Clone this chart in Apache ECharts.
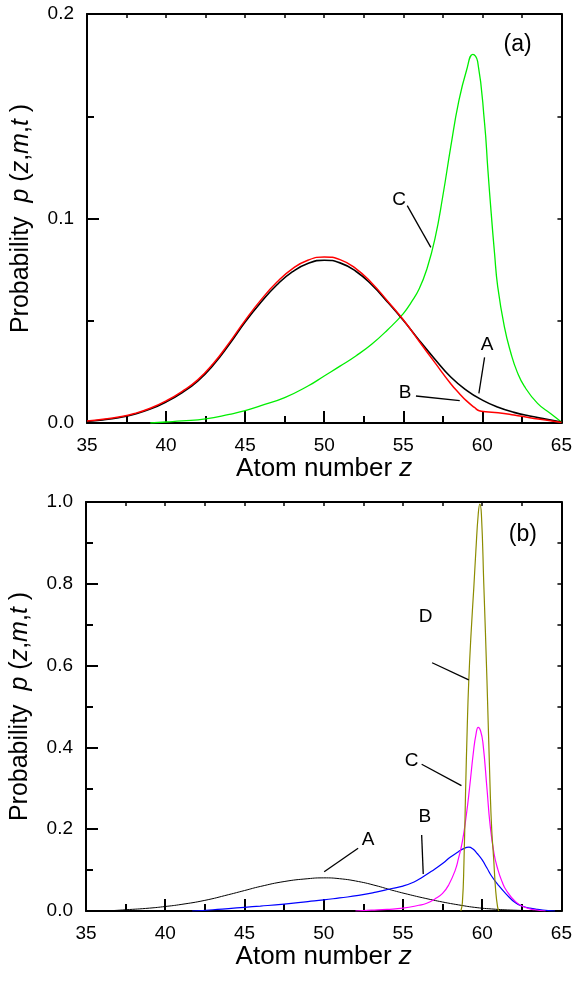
<!DOCTYPE html>
<html>
<head>
<meta charset="utf-8">
<script src="https://cdn.jsdelivr.net/npm/echarts@6/dist/echarts.min.js"></script>
<style>
html,body{margin:0;padding:0;background:#fff;}
#chart{width:575px;height:984px;}
</style>
</head>
<body>
<div id="chart"></div>
<script>
// ---------- Panel (a) data ----------
const aZ_A = [35, 36, 37, 38, 39, 40, 41, 42, 43, 44, 45, 46, 47, 48, 49, 50, 51, 52, 53, 54, 55, 56, 57, 58, 59, 60, 61, 62, 63, 64, 65];
const aP_A = [0.0008, 0.0015, 0.0026, 0.0043, 0.0068, 0.0103, 0.0148, 0.0205, 0.0285, 0.0385, 0.0494, 0.0590, 0.0675, 0.0740, 0.0781, 0.0796, 0.0783, 0.0742, 0.0676, 0.0592, 0.0502, 0.0405, 0.0312, 0.0225, 0.0160, 0.0112, 0.0077, 0.0052, 0.0034, 0.0019, 0.0005];

const aZ_B = [35, 36, 37, 38, 39, 40, 41, 42, 43, 44, 45, 46, 47, 48, 49, 50, 51, 52, 53, 54, 55, 56, 57, 58, 58.5, 59, 59.5, 59.8, 60.2, 61, 62, 63, 64, 65];
const aP_B = [0.001, 0.0018, 0.0029, 0.0046, 0.0072, 0.0108, 0.0154, 0.0211, 0.0292, 0.0393, 0.0502, 0.0602, 0.0688, 0.0755, 0.0797, 0.0812, 0.0799, 0.0755, 0.0685, 0.0597, 0.0505, 0.0400, 0.0295, 0.0192, 0.0148, 0.0108, 0.0076, 0.0060, 0.0055, 0.0050, 0.0039, 0.0026, 0.0015, 0.0003];

const aZ_C = [39, 40, 41, 42.5, 44, 45, 46, 47.5, 49, 50, 51, 52, 53, 54, 55, 55.5, 56, 56.5, 57, 57.5, 58, 58.5, 59, 59.4, 59.7, 60.14, 60.35, 60.56, 60.77, 60.97, 61.39, 61.81, 62.2, 62.65, 63.49, 64.33, 65];
const aP_C = [0, 0.0005, 0.001, 0.002, 0.0042, 0.006, 0.0085, 0.0124, 0.0182, 0.023, 0.0278, 0.0328, 0.0385, 0.0455, 0.0535, 0.059, 0.0655, 0.0755, 0.090, 0.111, 0.135, 0.157, 0.1725, 0.1803, 0.1768, 0.1466, 0.1237, 0.1025, 0.083, 0.0667, 0.0471, 0.034, 0.025, 0.018, 0.0096, 0.0045, 0.0005];

// ---------- Panel (b) data ----------
const bZ_A = [36.5, 37.5, 39, 40, 41, 42.5, 44, 45, 46, 47.5, 49, 50, 51, 52.2, 53.3, 54.3, 55.3, 56.4, 57.5, 58.5, 59.5, 60.6, 62, 63.5, 65];
const bP_A = [0.0005, 0.003, 0.007, 0.011, 0.016, 0.026, 0.040, 0.050, 0.060, 0.072, 0.079, 0.081, 0.079, 0.072, 0.062, 0.051, 0.041, 0.031, 0.022, 0.015, 0.009, 0.005, 0.002, 0.0007, 0];

const bZ_B = [41.7, 43, 44, 45, 46, 47.5, 49, 50, 51, 52.2, 53.3, 54.3, 55, 55.7, 56.2, 56.8, 57.5, 58, 58.5, 58.8, 59.15, 59.4, 59.7, 60, 60.3, 60.6, 61, 61.5, 62.1, 62.6, 63, 63.5, 64.2, 64.6];
const bP_B = [0, 0.003, 0.006, 0.009, 0.012, 0.017, 0.023, 0.027, 0.032, 0.038, 0.046, 0.055, 0.061, 0.071, 0.082, 0.097, 0.116, 0.132, 0.145, 0.152, 0.156, 0.152, 0.14, 0.125, 0.105, 0.085, 0.064, 0.042, 0.02, 0.011, 0.007, 0.004, 0.001, 0];

const bZ_C = [52, 53, 54, 55, 56, 56.5, 57, 57.5, 57.9, 58.3, 58.5, 58.75, 59, 59.2, 59.45, 59.6, 59.75, 59.9, 60.05, 60.3, 60.5, 60.75, 61, 61.25, 61.5, 62.1, 62.7, 63.3, 64];
const bP_C = [0, 0.002, 0.004, 0.007, 0.014, 0.019, 0.029, 0.043, 0.065, 0.10, 0.128, 0.17, 0.235, 0.30, 0.39, 0.43, 0.449, 0.44, 0.41, 0.30, 0.21, 0.14, 0.10, 0.072, 0.052, 0.023, 0.009, 0.003, 0];

const bZ_D = [58.65, 58.75, 58.85, 58.95, 59.05, 59.15, 59.3, 59.47, 59.6, 59.75, 59.85, 59.95, 60.1, 60.3, 60.5, 60.6, 60.72, 60.85, 60.97, 61.05];
const bP_D = [0, 0.02, 0.12, 0.29, 0.44, 0.56, 0.68, 0.79, 0.88, 0.97, 0.995, 0.97, 0.80, 0.565, 0.30, 0.20, 0.13, 0.05, 0.01, 0];

// ---------- Axis ticks ----------
const xRange = [35, 65];
const xStep = 5;
const aYRange = [0, 0.2];
const aYStep = 0.1;
const bYRange = [0, 1.0];
const bYStep = 0.2;

// ---------- Annotations (data units) ----------
const aLabels = [[62.23, 0.1848, '(a)'], [54.73, 0.1094, 'C'], [60.30, 0.0381, 'A'], [55.11, 0.0150, 'B']];
const aLeaders = [[[55.25, 0.1063], [56.74, 0.0859]], [[60.14, 0.0321], [59.78, 0.0145]], [[55.80, 0.0132], [58.57, 0.0109]]];
const bLabels = [[62.57, 0.919, '(b)'], [56.43, 0.7196, 'D'], [55.55, 0.367, 'C'], [56.38, 0.2306, 'B'], [52.80, 0.1736, 'A']];
const bLeaders = [[[56.84, 0.607], [59.15, 0.565]], [[56.18, 0.3587], [58.69, 0.3064]], [[56.18, 0.1858], [56.28, 0.0905]], [[52.17, 0.1533], [50.03, 0.0961]]];

const FONT = "'Liberation Sans', Arial, sans-serif";
const zip = (xs, ys) => xs.map((x, i) => [x, ys[i]]);

function bottomX(grid) {
  return {
    type: 'value', gridIndex: grid, position: 'bottom', min: xRange[0], max: xRange[1], interval: xStep,
    name: 'Atom number {i|z}', nameLocation: 'middle', nameGap: 32,
    nameTextStyle: { fontFamily: FONT, fontSize: 26, color: '#000', rich: { i: { fontStyle: 'italic', fontFamily: FONT, fontSize: 26, color: '#000' } } },
    axisLine: { show: true, onZero: false, lineStyle: { color: '#000', width: 2 } },
    axisTick: { show: true, inside: true, length: 12, lineStyle: { color: '#000', width: 2 } },
    minorTick: { show: true, splitNumber: 2, length: 7, lineStyle: { color: '#000', width: 2 } },
    axisLabel: { margin: 13, fontFamily: FONT, fontSize: 19, color: '#000' },
    splitLine: { show: false }
  };
}
function topX(grid) {
  return {
    type: 'value', gridIndex: grid, position: 'top', min: xRange[0], max: xRange[1], interval: xStep / 2,
    axisLine: { show: true, onZero: false, lineStyle: { color: '#000', width: 2 } },
    axisTick: { show: true, inside: true, length: 4, lineStyle: { color: '#000', width: 1.5 } },
    axisLabel: { show: false }, splitLine: { show: false }
  };
}
function leftY(grid, range, step) {
  return {
    type: 'value', gridIndex: grid, position: 'left', min: range[0], max: range[1], interval: step,
    name: 'Probability  {i|p} ({i|z},{i|m},{i|t} )', nameLocation: 'middle', nameGap: 53, nameRotate: 90,
    nameTextStyle: { fontFamily: FONT, fontSize: 25, color: '#000', rich: { i: { fontStyle: 'italic', fontFamily: FONT, fontSize: 25, color: '#000' } } },
    axisLine: { show: true, onZero: false, lineStyle: { color: '#000', width: 2 } },
    axisTick: { show: true, inside: true, length: 12, lineStyle: { color: '#000', width: 2 } },
    minorTick: { show: true, splitNumber: 2, length: 7, lineStyle: { color: '#000', width: 2 } },
    axisLabel: { margin: 13, fontFamily: FONT, fontSize: 19, color: '#000', formatter: v => v.toFixed(1) },
    splitLine: { show: false }
  };
}
function rightY(grid, range, step) {
  return {
    type: 'value', gridIndex: grid, position: 'right', min: range[0], max: range[1], interval: step / 2,
    axisLine: { show: true, onZero: false, lineStyle: { color: '#000', width: 2 } },
    axisTick: { show: true, inside: true, length: 4, lineStyle: { color: '#000', width: 1.5 } },
    axisLabel: { show: false }, splitLine: { show: false }
  };
}
function curve(xi, yi, xs, ys, color, width) {
  return {
    type: 'line', xAxisIndex: xi, yAxisIndex: yi, data: zip(xs, ys), showSymbol: false, symbol: 'none',
    smooth: 0.5, lineStyle: { color: color, width: width }, silent: true, z: 3
  };
}
function labels(xi, yi, arr) {
  return {
    type: 'scatter', xAxisIndex: xi, yAxisIndex: yi, symbolSize: 1, silent: true, z: 5,
    itemStyle: { opacity: 1, color: 'rgba(0,0,0,0)' },
    data: arr.map(d => ({ value: [d[0], d[1]], name: d[2],
      label: { show: true, position: 'inside', formatter: d[2], fontFamily: FONT, color: '#000', opacity: 1,
        textBorderWidth: 0, fontSize: d[2].length > 1 ? 23 : 19 } }))
  };
}
function leaders(xi, yi, arr) {
  return {
    type: 'lines', coordinateSystem: 'cartesian2d', xAxisIndex: xi, yAxisIndex: yi, silent: true, z: 4,
    lineStyle: { color: '#000', width: 1.3, opacity: 1, curveness: 0 },
    data: arr.map(c => ({ coords: c }))
  };
}

const chart = echarts.init(document.getElementById('chart'), null, { renderer: 'canvas' });
chart.setOption({
  animation: false,
  backgroundColor: '#fff',
  textStyle: { fontFamily: FONT },
  grid: [
    { left: 87, top: 14, width: 477, height: 409 },
    { left: 86, top: 502, width: 477, height: 409 }
  ],
  xAxis: [bottomX(0), topX(0), bottomX(1), topX(1)],
  yAxis: [leftY(0, aYRange, aYStep), rightY(0, aYRange, aYStep), leftY(1, bYRange, bYStep), rightY(1, bYRange, bYStep)],
  series: [
    curve(0, 0, aZ_C, aP_C, '#00ee00', 1.3),
    curve(0, 0, aZ_A, aP_A, '#000000', 1.6),
    curve(0, 0, aZ_B, aP_B, '#ff0000', 1.5),
    labels(0, 0, aLabels),
    leaders(0, 0, aLeaders),
    curve(2, 2, bZ_A, bP_A, '#000000', 1),
    curve(2, 2, bZ_B, bP_B, '#0000ff', 1.2),
    curve(2, 2, bZ_C, bP_C, '#ff00ff', 1.2),
    curve(2, 2, bZ_D, bP_D, '#8c8c00', 1.2),
    labels(2, 2, bLabels),
    leaders(2, 2, bLeaders)
  ]
});
</script>
</body>
</html>
